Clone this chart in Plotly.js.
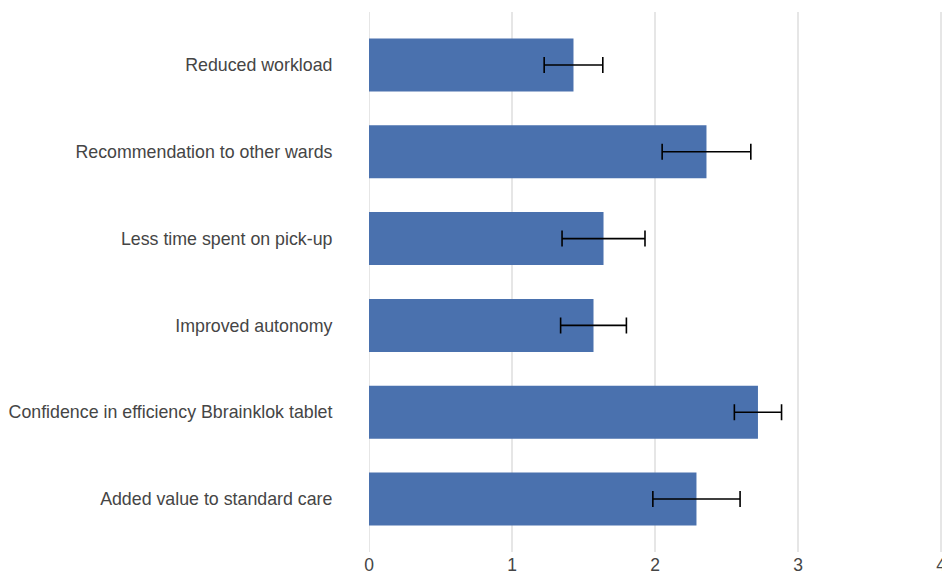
<!DOCTYPE html>
<html>
<head>
<meta charset="utf-8">
<script src="https://cdn.plot.ly/plotly-3.0.1.min.js"></script>
<style>
  html, body { margin: 0; padding: 0; background: #fff; }
  #chart { width: 942px; height: 576px; }
</style>
</head>
<body>
<div id="chart"></div>
<script>
// Survey items, listed top to bottom
const items = [
  "Reduced workload",
  "Recommendation to other wards",
  "Less time spent on pick-up",
  "Improved autonomy",
  "Confidence in efficiency Bbrainklok tablet",
  "Added value to standard care"
];
// Mean scores
const means = [1.43, 2.36, 1.64, 1.57, 2.72, 2.29];
// Error bar half-widths
const errors = [0.205, 0.31, 0.29, 0.23, 0.165, 0.305];
const xTicks = [0, 1, 2, 3, 4];

const trace = {
  type: "bar",
  orientation: "h",
  y: items,
  x: means,
  width: 0.61,
  marker: { color: "#4a71ae" },
  error_x: {
    type: "data",
    array: errors,
    visible: true,
    color: "#000000",
    thickness: 1.6,
    width: 8
  },
  hoverinfo: "x+y"
};

const layout = {
  width: 942,
  height: 576,
  margin: { l: 369, r: 0, t: 12, b: 24 },
  paper_bgcolor: "#ffffff",
  plot_bgcolor: "#ffffff",
  showlegend: false,
  font: { family: "Liberation Sans, Arial, sans-serif", size: 17.8, color: "#454545" },
  xaxis: {
    range: [0, 4.007],
    tickvals: xTicks,
    ticktext: xTicks.map(String),
    showgrid: true,
    gridcolor: "#e6e6e6",
    gridwidth: 2,
    zeroline: false,
    showline: false,
    ticks: "",
    ticklabeloverflow: "allow",
    tickfont: { size: 17.5, color: "#454545" },
    fixedrange: true
  },
  yaxis: {
    type: "category",
    categoryorder: "array",
    categoryarray: items,
    range: [5.61, -0.61],
    showgrid: false,
    zeroline: false,
    showline: false,
    ticks: "outside",
    ticklen: 32,
    tickcolor: "rgba(0,0,0,0)",
    tickfont: { size: 17.8, color: "#454545" },
    fixedrange: true
  }
};

// Grid lines at both ends of the x range, styled like the inner grid
layout.shapes = [xTicks[0], xTicks[xTicks.length - 1]].map(v => ({
  type: "line", xref: "x", yref: "paper",
  x0: v, x1: v, y0: 0, y1: 1,
  line: { color: "#e6e6e6", width: 2 },
  layer: "below"
}));

Plotly.newPlot("chart", [trace], layout, { displayModeBar: false, staticPlot: true });
</script>
</body>
</html>
